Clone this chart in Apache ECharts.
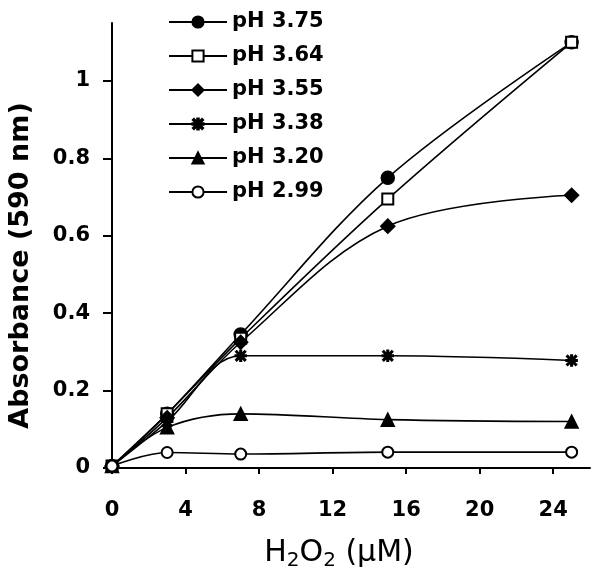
<!DOCTYPE html>
<html>
<head>
<meta charset="utf-8">
<script src="https://cdn.jsdelivr.net/npm/echarts@6/dist/echarts.min.js"></script>
<style>
  html, body { margin: 0; padding: 0; background: #fff; }
  #chart { width: 600px; height: 582px; }
</style>
</head>
<body>
<div id="chart"></div>
<script>
// H2O2 concentration (µM)
const h2o2 = [0, 3, 7, 15, 25];
const xTicks = [0, 4, 8, 12, 16, 20, 24];
const yTicks = [0, 0.2, 0.4, 0.6, 0.8, 1];

// absorbance at 590 nm for each pH
const ph375 = [0.005, 0.14, 0.345, 0.75, 1.10];
const ph364 = [0.005, 0.14, 0.335, 0.695, 1.10];
const ph355 = [0.005, 0.13, 0.325, 0.625, 0.705];
const ph338 = [0.005, 0.12, 0.29, 0.29, 0.278];
const ph320 = [0.005, 0.105, 0.14, 0.125, 0.12];
const ph299 = [0.005, 0.04, 0.036, 0.041, 0.041];

const FONT = 'DejaVu Sans';
const star = 'path://M-0.7,-5L0.7,-5L0.7,5L-0.7,5Z M-4.6,-3.6L-3.6,-4.6L4.6,3.6L3.6,4.6Z M3.6,-4.6L4.6,-3.6L-3.6,4.6L-4.6,3.6Z M-5,-0.7L5,-0.7L5,0.7L-5,0.7Z';

function line(name, data, symbol, size) {
  return {
    name, type: 'line', smooth: 0.35, symbol, symbolSize: size,
    data: h2o2.map((x, i) => [x, data[i]]),
    lineStyle: { color: '#000', width: 1.6 },
    itemStyle: { color: '#000', borderColor: '#000', borderWidth: 1.5 },
    emphasis: { disabled: true }
  };
}

const chart = echarts.init(document.getElementById('chart'));
chart.setOption({
  animation: false,
  grid: { left: 112, right: 10, top: 23, bottom: 114, outerBoundsMode: 'none', containLabel: false },
  legend: {
    orient: 'vertical', left: 163, top: 6,
    itemWidth: 58, itemHeight: 14, itemGap: 12,
    textStyle: { fontFamily: FONT, fontWeight: 'bold', fontSize: 21, color: '#000', lineHeight: 22 },
    data: ['pH 3.75', 'pH 3.64', 'pH 3.55', 'pH 3.38', 'pH 3.20', 'pH 2.99']
  },
  xAxis: {
    type: 'value', min: 0, max: 26,
    axisLine: { onZero: false, lineStyle: { color: '#000', width: 2 } },
    axisTick: { customValues: xTicks, length: 6, lineStyle: { color: '#000', width: 2 } },
    axisLabel: { customValues: xTicks, margin: 32, fontFamily: FONT, fontWeight: 'bold', fontSize: 21, color: '#000' },
    splitLine: { show: false },
    name: 'H{s|2}O{s|2} (µM)', nameLocation: 'middle', nameGap: 67,
    nameTextStyle: {
      fontFamily: FONT, fontSize: 30, color: '#000', padding: [0, 24, 0, 0],
      rich: { s: { fontFamily: FONT, fontSize: 20, color: '#000', verticalAlign: 'bottom', padding: [16, 0, 0, 0] } }
    }
  },
  yAxis: {
    type: 'value', min: 0, max: 1.15,
    axisLine: { show: true, lineStyle: { color: '#000', width: 2 } },
    axisTick: { customValues: yTicks, length: 9, lineStyle: { color: '#000', width: 2 } },
    axisLabel: { customValues: yTicks, margin: 22, fontFamily: FONT, fontWeight: 'bold', fontSize: 21, color: '#000' },
    splitLine: { show: false },
    name: 'Absorbance (590 nm)', nameLocation: 'middle', nameGap: 78,
    nameTextStyle: { fontFamily: FONT, fontWeight: 'bold', fontSize: 27, color: '#000', padding: [0, 40, 0, 0] }
  },
  series: [
    line('pH 3.75', ph375, 'circle', 13),
    line('pH 3.64', ph364, 'emptyRect', 11),
    line('pH 3.55', ph355, 'diamond', 14),
    line('pH 3.38', ph338, star, 11),
    line('pH 3.20', ph320, 'triangle', 13),
    line('pH 2.99', ph299, 'emptyCircle', 11)
  ]
});
</script>
</body>
</html>
